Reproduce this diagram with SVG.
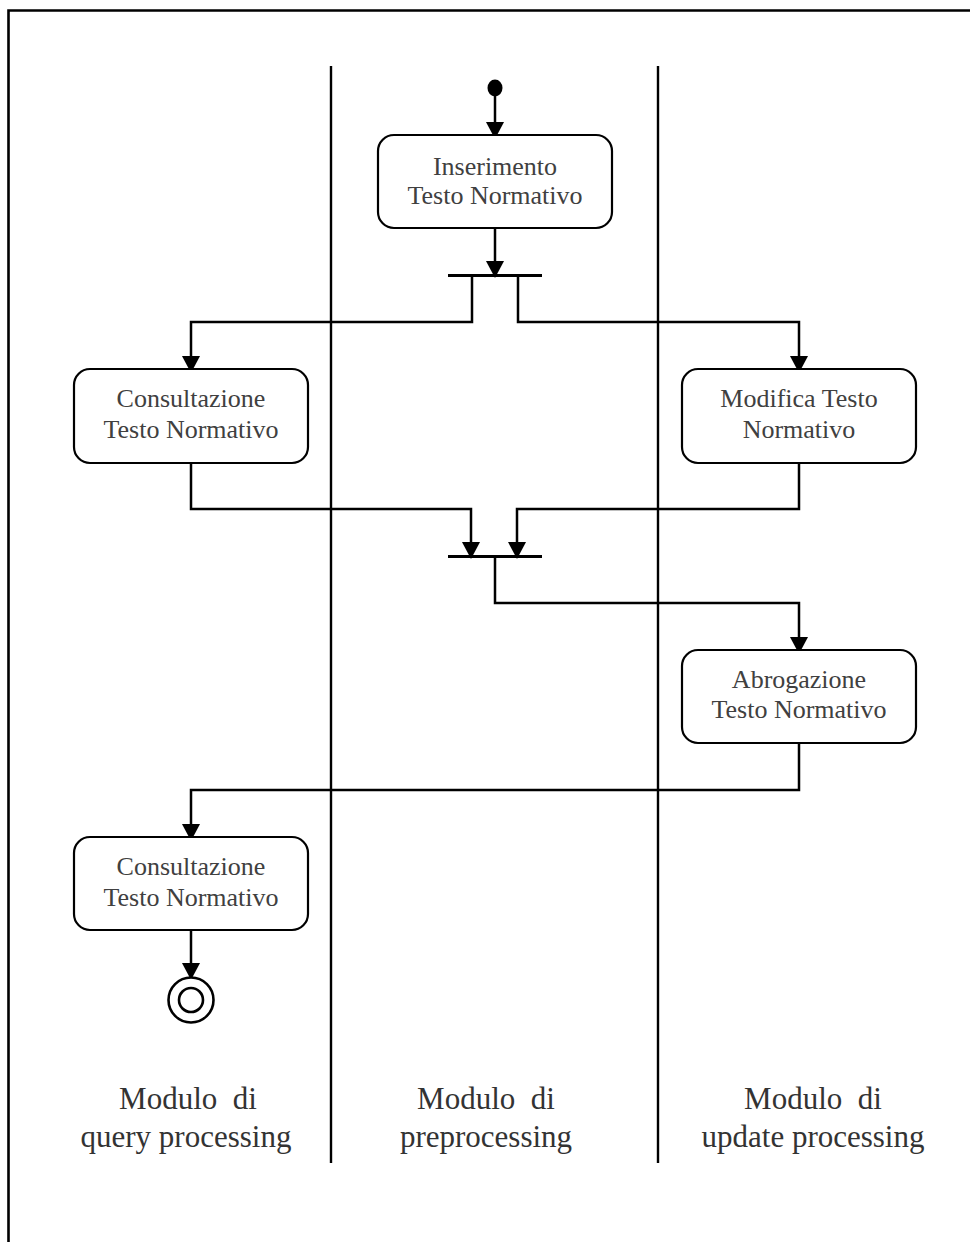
<svg xmlns="http://www.w3.org/2000/svg" width="970" height="1242" viewBox="0 0 970 1242">
  <style>
    .frame { fill: none; stroke: #000; stroke-width: 2.6; }
    .lane { stroke: #000; stroke-width: 2.4; }
    .box { fill: #fff; stroke: #000; stroke-width: 2.2; }
    .bar { stroke: #000; stroke-width: 3; }
    .edge { fill: none; stroke: #000; stroke-width: 2.5; marker-end: url(#arrow); }
    .label { font-family: "Liberation Serif", "Times New Roman", serif; font-size: 26px; fill: #404040; text-anchor: middle; }
    .lanelabel { font-family: "Liberation Serif", "Times New Roman", serif; font-size: 31px; fill: #333; text-anchor: middle; }
  </style>
  <defs>
    <marker id="arrow" viewBox="0 0 17 18" markerWidth="17" markerHeight="18" refX="15" refY="9" orient="auto" markerUnits="userSpaceOnUse">
      <path d="M0,0 L17,9 L0,18 Z" fill="#000"/>
    </marker>
  </defs>
  <rect width="970" height="1242" fill="#fff"/>

  <!-- outer frame (open to the right and bottom) -->
  <path class="frame" d="M8.5,1250 V10.5 H980"/>

  <!-- swimlane separators -->
  <g id="lanes">
    <line class="lane" x1="331" y1="66" x2="331" y2="1163"/>
    <line class="lane" x1="658" y1="66" x2="658" y2="1163"/>
  </g>

  <!-- connectors -->
  <g id="connectors">
    <path class="edge" d="M495,96 V137"/>
    <path class="edge" d="M495,228 V276"/>
    <path class="edge" d="M472,277 V322 H191 V371"/>
    <path class="edge" d="M518,277 V322 H799 V371"/>
    <path class="edge" d="M191,463 V509 H471 V557"/>
    <path class="edge" d="M799,463 V509 H517 V557"/>
    <path class="edge" d="M495,558 V603 H799 V652"/>
    <path class="edge" d="M799,743 V790 H191 V839"/>
    <path class="edge" d="M191,930 V978"/>
  </g>

  <g id="start">
    <ellipse cx="495" cy="88" rx="7.5" ry="8.5" fill="#000"/>
  </g>

  <g id="fork">
    <line class="bar" x1="448" y1="275.5" x2="542" y2="275.5"/>
  </g>

  <g id="join">
    <line class="bar" x1="448" y1="556.5" x2="542" y2="556.5"/>
  </g>

  <g id="inserimento">
    <rect class="box" x="378" y="135" width="234" height="93" rx="16"/>
    <text class="label" x="495" y="175">Inserimento</text>
    <text class="label" x="495" y="203.5">Testo Normativo</text>
  </g>

  <g id="consultazione1">
    <rect class="box" x="74" y="369" width="234" height="94" rx="16"/>
    <text class="label" x="191" y="407">Consultazione</text>
    <text class="label" x="191" y="437.5">Testo Normativo</text>
  </g>

  <g id="modifica">
    <rect class="box" x="682" y="369" width="234" height="94" rx="16"/>
    <text class="label" x="799" y="407">Modifica Testo</text>
    <text class="label" x="799" y="437.5">Normativo</text>
  </g>

  <g id="abrogazione">
    <rect class="box" x="682" y="650" width="234" height="93" rx="16"/>
    <text class="label" x="799" y="688">Abrogazione</text>
    <text class="label" x="799" y="718">Testo Normativo</text>
  </g>

  <g id="consultazione2">
    <rect class="box" x="74" y="837" width="234" height="93" rx="16"/>
    <text class="label" x="191" y="874.5">Consultazione</text>
    <text class="label" x="191" y="905.5">Testo Normativo</text>
  </g>

  <g id="end">
    <circle cx="191" cy="1000" r="22.5" fill="#fff" stroke="#000" stroke-width="2.6"/>
    <circle cx="191" cy="1000" r="12" fill="none" stroke="#000" stroke-width="2.6"/>
  </g>

  <!-- lane titles -->
  <g id="lane-titles">
    <text class="lanelabel" x="188" y="1109" xml:space="preserve">Modulo  di</text>
    <text class="lanelabel" x="186" y="1147">query processing</text>
    <text class="lanelabel" x="486" y="1109" xml:space="preserve">Modulo  di</text>
    <text class="lanelabel" x="486" y="1147">preprocessing</text>
    <text class="lanelabel" x="813" y="1109" xml:space="preserve">Modulo  di</text>
    <text class="lanelabel" x="813" y="1147">update processing</text>
  </g>
</svg>
